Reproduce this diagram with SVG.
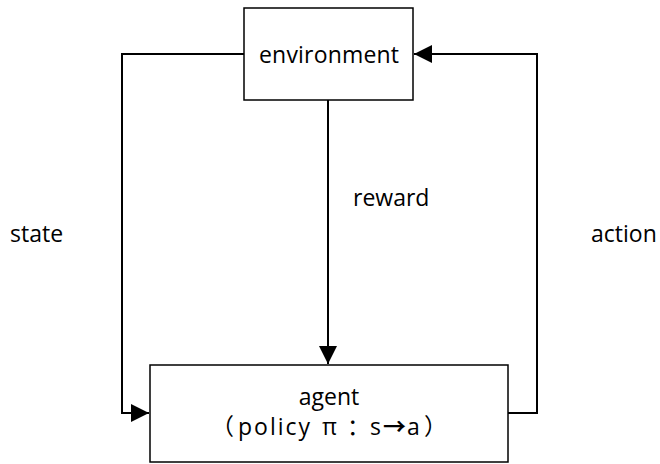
<svg xmlns="http://www.w3.org/2000/svg" width="660" height="464" viewBox="0 0 660 464">
<defs>
<style>
.box{fill:#fff;stroke:#000;stroke-width:1.5}
.ln{fill:none;stroke:#000;stroke-width:2}
.t{font-family:"Open Sans","Noto Sans CJK SC",sans-serif;font-size:23px;fill:#000}
.cjk{font-family:"Noto Sans CJK SC",sans-serif}
</style>
<marker id="ah" markerUnits="userSpaceOnUse" markerWidth="20" markerHeight="20" refX="18" refY="9" orient="auto">
<path d="M0,0 L18,9 L0,18 Z" fill="#000"/>
</marker>
</defs>
<g id="connectors">
<polyline class="ln" points="244,54 122,54 122,413 149,413" marker-end="url(#ah)"/>
<polyline class="ln" points="508,413 537,413 537,54 414,54" marker-end="url(#ah)"/>
<line class="ln" x1="328" y1="100" x2="328" y2="364" marker-end="url(#ah)"/>
</g>
<g id="environment">
<rect class="box" x="244" y="8" width="169" height="92"/>
<text class="t" x="329" y="63" text-anchor="middle" textLength="140">environment</text>
</g>
<g id="agent">
<rect class="box" x="150" y="365" width="358" height="97"/>
<text class="t" x="329" y="405" text-anchor="middle">agent</text>
<text class="t" y="435"><tspan class="cjk" x="211">（</tspan><tspan x="238" letter-spacing="2">policy</tspan><tspan x="322">π</tspan><tspan class="cjk" x="347">：</tspan><tspan x="370">s</tspan><tspan class="cjk" x="383" font-weight="bold">→</tspan><tspan x="407">a</tspan><tspan class="cjk" x="424">）</tspan></text>
</g>
<g id="labels">
<text class="t" x="353" y="206">reward</text>
<text class="t" x="10" y="242">state</text>
<text class="t" x="591" y="242">action</text>
</g>
</svg>
